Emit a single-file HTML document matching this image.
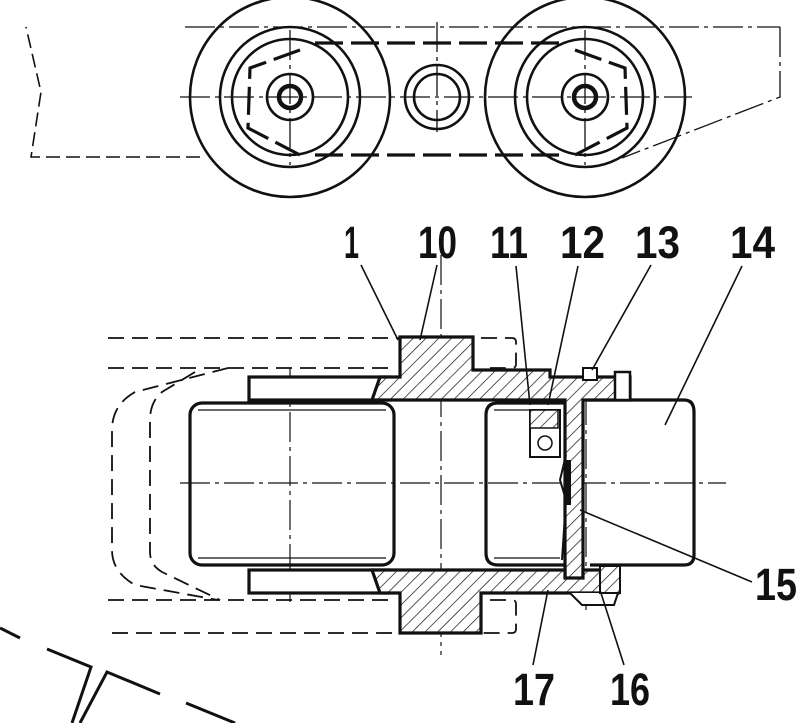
<!DOCTYPE html>
<html><head><meta charset="utf-8"><style>
html,body{margin:0;padding:0;background:#fff}
svg{display:block}
text{font-family:"Liberation Sans",sans-serif;font-size:45px;fill:#111;font-weight:bold}
</style></head><body>
<svg width="806" height="723" viewBox="0 0 806 723" xmlns="http://www.w3.org/2000/svg">
<defs>
<pattern id="h" patternUnits="userSpaceOnUse" width="9" height="9" patternTransform="rotate(45)">
<rect width="9" height="9" fill="#fff"/><line x1="0" y1="0" x2="0" y2="9" stroke="#111" stroke-width="1.4"/>
</pattern>
</defs>
<g fill="none" stroke="#111">
<g stroke-width="1.6" stroke-dasharray="14 6">
<polyline points="200,157 31,157 41,92 26,27"/>
</g>
<g stroke-width="1.3" stroke-dasharray="30 5 4 5">
<line x1="185" y1="27" x2="780" y2="27"/>
<polyline points="780,27 780,97 622,158"/>
<line x1="180" y1="97" x2="692" y2="97"/>
<line x1="290" y1="30" x2="290" y2="165"/>
<line x1="585" y1="30" x2="585" y2="165"/>
<line x1="437" y1="22" x2="437" y2="132"/>
</g>
<g stroke-width="2.6">
<circle cx="290" cy="97" r="100"/>
<circle cx="585" cy="97" r="100"/>
<circle cx="290" cy="97" r="70"/>
<circle cx="585" cy="97" r="70"/>
<circle cx="290" cy="97" r="58"/>
<circle cx="585" cy="97" r="58"/>
<circle cx="290" cy="97" r="23"/>
<circle cx="585" cy="97" r="23"/>
<circle cx="290" cy="97" r="11" stroke-width="4.5"/>
<circle cx="585" cy="97" r="11" stroke-width="4.5"/>
<ellipse cx="437" cy="97" rx="32" ry="32"/>
<ellipse cx="437" cy="97" rx="23" ry="23"/>
</g>
<g stroke-width="3.2" stroke-dasharray="28 8">
<line x1="315" y1="43" x2="560" y2="43"/>
<line x1="315" y1="155" x2="560" y2="155"/>
<polyline points="300,50 250,68 248,128 300,155"/>
<polyline points="575,50 625,68 627,128 575,155"/>
</g>

<g stroke-width="1.8" stroke-dasharray="16 8">
<line x1="108" y1="338" x2="400" y2="338"/>
<line x1="108" y1="368" x2="390" y2="368"/>
<line x1="108" y1="600" x2="390" y2="600"/>
<line x1="112" y1="633" x2="400" y2="633"/>
<path d="M481,338 H512 Q516,338 516,342 V364 Q516,368 512,368 H490"/>
<path d="M490,600 H512 Q516,600 516,604 V629 Q516,633 512,633 H481"/>
<path d="M228,368 L135,392 Q112,405 112,430 V550 Q112,572 135,585 L218,600"/>
<path d="M195,372 L162,392 Q150,402 150,420 V552 Q150,565 162,572 L220,600"/>
</g>
<g stroke-width="1.2" stroke-dasharray="30 5 4 5">
<line x1="441" y1="255" x2="441" y2="655"/>
<line x1="180" y1="483" x2="726" y2="483"/>
<line x1="290" y1="368" x2="290" y2="602"/>
<line x1="586" y1="395" x2="586" y2="610"/>
</g>
<g stroke-width="3.2">
<rect x="190" y="403" width="204" height="162" rx="12"/>
<path d="M565,403 H498 Q486,403 486,415 V553 Q486,565 498,565 H565"/>
<path d="M588,400 H684 Q694,400 694,412 V555 Q694,565 684,565 H590"/>
<line x1="198" y1="410" x2="386" y2="410" stroke-width="1.2"/>
<line x1="198" y1="558" x2="386" y2="558" stroke-width="1.2"/>
<line x1="494" y1="410" x2="560" y2="410" stroke-width="1.2"/>
<line x1="494" y1="558" x2="560" y2="558" stroke-width="1.2"/>
</g>
<g stroke-width="3.2">
<rect x="249" y="377" width="140" height="23" fill="#fff"/>
<rect x="249" y="570" width="140" height="23" fill="#fff"/>
<path d="M400,337 H473 V370 H550 V377 H630 V400 H583 V580 H565 V400 H372 L380,377 H400 Z" fill="url(#h)"/>
<path d="M372,570 H565 V578 H583 V570 H618 V593 L580,593 H481 V633 H400 V593 H380 Z" fill="url(#h)"/>
<rect x="530" y="410" width="30" height="47" fill="#fff" stroke-width="2"/>
<rect x="530" y="410" width="28" height="18" fill="url(#h)" stroke-width="1.5"/>
<circle cx="545" cy="443" r="7" stroke-width="1.5"/>
<rect x="615" y="372" width="15" height="28" fill="#fff" stroke-width="2.5"/>
<rect x="583" y="368" width="14" height="12" fill="#fff" stroke-width="2"/>
<path d="M570,593 L582,605 H614 L618,593" fill="#fff" stroke-width="2"/>
<rect x="600" y="566" width="20" height="27" fill="url(#h)" stroke-width="2"/>
<path d="M566,455 L560,480 L566,500 L562,560" stroke-width="2"/>
<line x1="568" y1="460" x2="568" y2="505" stroke-width="6"/>
</g>
<g stroke-width="1.6">
<line x1="361" y1="265" x2="398" y2="340"/>
<line x1="437" y1="265" x2="420" y2="340"/>
<line x1="516" y1="266" x2="530" y2="405"/>
<line x1="578" y1="266" x2="548" y2="405"/>
<line x1="651" y1="265" x2="592" y2="370"/>
<line x1="742" y1="266" x2="665" y2="425"/>
<line x1="752" y1="582" x2="580" y2="510"/>
<line x1="533" y1="665" x2="548" y2="590"/>
<line x1="624" y1="665" x2="600" y2="590"/>
</g>
<g stroke-width="3">
<line x1="0" y1="628" x2="20" y2="638"/>
<polyline points="47,649 91,667 72,723"/>
<polyline points="80,723 107,672 160,694"/>
<line x1="186" y1="703" x2="235" y2="723"/>
</g>
</g>
<g>
<text x="344" y="258" textLength="15" lengthAdjust="spacingAndGlyphs">1</text>
<text x="418" y="258" textLength="39" lengthAdjust="spacingAndGlyphs">10</text>
<text x="490" y="258" textLength="38" lengthAdjust="spacingAndGlyphs">11</text>
<text x="560" y="258" textLength="45" lengthAdjust="spacingAndGlyphs">12</text>
<text x="635" y="258" textLength="45" lengthAdjust="spacingAndGlyphs">13</text>
<text x="730" y="258" textLength="45" lengthAdjust="spacingAndGlyphs">14</text>
<text x="755" y="600" textLength="42" lengthAdjust="spacingAndGlyphs">15</text>
<text x="513" y="705" textLength="42" lengthAdjust="spacingAndGlyphs">17</text>
<text x="610" y="705" textLength="40" lengthAdjust="spacingAndGlyphs">16</text>
</g>
</svg>
</body></html>
